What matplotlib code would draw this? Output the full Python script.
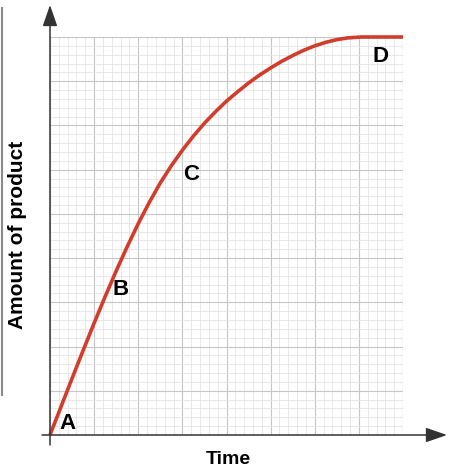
import matplotlib
matplotlib.use('Agg')
from matplotlib import pyplot as plt
from matplotlib.lines import Line2D
from matplotlib.patches import FancyArrowPatch
from matplotlib.ticker import MultipleLocator

# product formed over time (arbitrary grid units)
time = [0, 0.25, 0.5, 0.75, 1.0, 1.25, 1.5, 1.75, 2.0, 2.25, 2.5, 2.75, 3.0, 3.25, 3.5,
        3.75, 4.0, 4.25, 4.5, 4.75, 5.0, 5.25, 5.5, 5.75, 6.0, 6.25, 6.5, 6.75, 7.05, 8.0]
product = [0, 0.64, 1.28, 1.91, 2.53, 3.13, 3.71, 4.26, 4.78, 5.26, 5.7, 6.09, 6.44, 6.76, 7.05,
           7.31, 7.55, 7.76, 7.96, 8.14, 8.3, 8.45, 8.58, 8.7, 8.8, 8.88, 8.94, 8.98, 9.0, 9.0]

# labelled points on the curve
point_names = ['A', 'B', 'C', 'D']
point_x = [0.4, 1.6, 3.2, 7.5]
point_y = [0.27, 3.3, 5.9, 8.55]

plt.rcParams['font.family'] = ['Liberation Sans', 'DejaVu Sans']

W, H = 455, 476
fig = plt.figure(figsize=(W / 100, H / 100), dpi=100)
ax = fig.add_axes([50 / W, 41 / H, 353 / W, 398 / H])

ax.plot(time, product, color='#d23c2a', lw=2.6, clip_on=False,
        solid_capstyle='butt', solid_joinstyle='round', zorder=5)

for name, x, y in zip(point_names, point_x, point_y):
    ax.text(x, y, name, fontsize=16, fontweight='bold', ha='center', va='center', zorder=6)

ax.set_xlim(0, 8)
ax.set_ylim(0, 9)
ax.xaxis.set_major_locator(MultipleLocator(1))
ax.yaxis.set_major_locator(MultipleLocator(1))
ax.xaxis.set_minor_locator(MultipleLocator(0.2))
ax.yaxis.set_minor_locator(MultipleLocator(0.2))
ax.grid(which='major', color='#c6c6c6', lw=0.8)
ax.grid(which='minor', color='#e4e4e4', lw=0.6)
ax.set_axisbelow(True)
ax.tick_params(which='both', length=0, labelbottom=False, labelleft=False)
for s in ax.spines.values():
    s.set_visible(False)
# keep the right edge of the grid
ax.axvline(8, color='#c6c6c6', lw=0.8)

# axis arrows (figure pixels)
for start, end in [((42, 41), (447, 41)), ((50, 31), (50, 471))]:
    fig.patches.append(FancyArrowPatch(
        start, end, transform=None, arrowstyle='-|>,head_length=1.3,head_width=0.45',
        mutation_scale=10, color='#333333', lw=1.1, shrinkA=0, shrinkB=0))

fig.text(228 / W, 16 / H, 'Time', fontsize=14, fontweight='bold', ha='center', va='center')
fig.text(18 / W, 241 / H, 'Amount of product', fontsize=15, fontweight='bold',
         ha='center', va='center', rotation=90)

# grey edge line at the left of the picture
fig.add_artist(Line2D([1.5 / W, 1.5 / W], [81 / H, 468 / H], color='#8a8a8a', lw=1.5))

fig.savefig('out.png', dpi=100)
